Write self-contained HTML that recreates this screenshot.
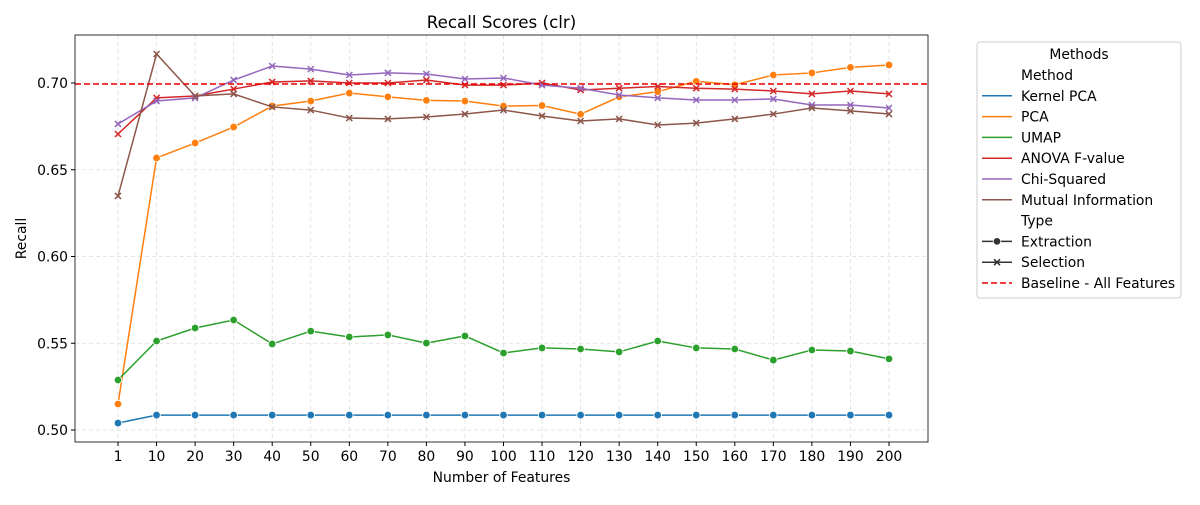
<!DOCTYPE html>
<html><head><meta charset="utf-8"><style>
body{margin:0;background:#fff;font-family:"Liberation Sans","DejaVu Sans",sans-serif}
svg text{font-family:"DejaVu Sans","Liberation Sans",sans-serif}
</style></head><body>
<svg id="c" width="1200" height="500" xmlns="http://www.w3.org/2000/svg"></svg>
<script>
const categories=["1","10","20","30","40","50","60","70","80","90","100","110","120","130","140","150","160","170","180","190","200"];
const yTicks=[0.50,0.55,0.60,0.65,0.70];
const kernelPca=[0.504,0.5086,0.5086,0.5086,0.5086,0.5086,0.5086,0.5086,0.5086,0.5086,0.5086,0.5086,0.5086,0.5086,0.5086,0.5086,0.5086,0.5086,0.5086,0.5086,0.5086];
const pca=[0.515,0.6568,0.6654,0.6746,0.6867,0.6896,0.6942,0.692,0.690,0.6896,0.6867,0.687,0.682,0.692,0.695,0.701,0.699,0.7046,0.7058,0.709,0.7104];
const umap=[0.5288,0.5513,0.5588,0.5634,0.5496,0.557,0.5536,0.5548,0.5501,0.5542,0.5444,0.5473,0.5467,0.545,0.5513,0.5473,0.5467,0.5403,0.5461,0.5455,0.541];
const anova=[0.6706,0.6914,0.6925,0.6965,0.7006,0.7012,0.70,0.70,0.7017,0.6988,0.6988,0.70,0.696,0.697,0.698,0.697,0.6965,0.6954,0.6937,0.6954,0.6937];
const chi=[0.6764,0.6896,0.6914,0.7017,0.7098,0.708,0.7046,0.7058,0.7052,0.7023,0.7029,0.6988,0.697,0.6931,0.6914,0.6902,0.6902,0.6908,0.6873,0.6873,0.6856];
const mi=[0.6349,0.7167,0.6925,0.6937,0.6862,0.6844,0.6798,0.6793,0.6804,0.6821,0.6844,0.681,0.6781,0.6793,0.6758,0.6769,0.6793,0.6821,0.6856,0.6839,0.6821];
const baseline=0.6994;
const series=[
 {name:"Kernel PCA",vals:kernelPca,color:"#1f77b4",m:"o"},
 {name:"PCA",vals:pca,color:"#ff7f0e",m:"o"},
 {name:"UMAP",vals:umap,color:"#2ca02c",m:"o"},
 {name:"ANOVA F-value",vals:anova,color:"#d62728",m:"x"},
 {name:"Chi-Squared",vals:chi,color:"#9467bd",m:"x"},
 {name:"Mutual Information",vals:mi,color:"#8c564b",m:"x"}];
const svg=document.getElementById('c');const NS="http://www.w3.org/2000/svg";
function el(t,a,p){const e=document.createElementNS(NS,t);for(const k in a)e.setAttribute(k,a[k]);(p||svg).appendChild(e);return e;}
const L=75,R=928,T=35,B=442,FS=13.9;
const x=i=>118+i*(889-118)/(categories.length-1);
const y=v=>430-(v-0.5)*1735;
yTicks.forEach(t=>{const g=el('line',{x1:L,x2:R,y1:y(t),y2:y(t),stroke:'#ddd','stroke-dasharray':'4,3','stroke-width':0.8});

el('line',{x1:L-4,x2:L,y1:y(t),y2:y(t),stroke:'#000'});
const tx=el('text',{x:L-7,y:y(t)+5,'text-anchor':'end','font-size':FS});tx.textContent=t.toFixed(2);
});
categories.forEach((c,i)=>{el('line',{x1:x(i),x2:x(i),y1:T,y2:B,stroke:'#ddd','stroke-dasharray':'4,3','stroke-width':0.8});
el('line',{x1:x(i),x2:x(i),y1:B,y2:B+4,stroke:'#000'});
const tx=el('text',{x:x(i),y:B+19,'text-anchor':'middle','font-size':FS});tx.textContent=c;
});
function marker(m,cx,cy,col,g){if(m==='o')el('circle',{cx,cy,r:3.8,fill:col,stroke:'#fff','stroke-width':0.8},g);
else{el('path',{d:`M${cx-3},${cy-3}L${cx+3},${cy+3}M${cx-3},${cy+3}L${cx+3},${cy-3}`,stroke:col,'stroke-width':1.5},g);}}
series.forEach(s=>{const g=el('g',{});
el('polyline',{points:s.vals.map((v,i)=>x(i)+','+y(v)).join(' '),fill:'none',stroke:s.color,'stroke-width':1.5},g);
s.vals.forEach((v,i)=>marker(s.m,x(i),y(v),s.color,g));});
const bl=el('line',{x1:L,x2:R,y1:y(baseline),y2:y(baseline),stroke:'#e00','stroke-width':1.5,'stroke-dasharray':'6,3'});

const fr=el('rect',{x:L,y:T,width:R-L,height:B-T,fill:'none',stroke:'#000','stroke-width':0.8});

let t=el('text',{x:(L+R)/2,y:28,'text-anchor':'middle','font-size':16.7});t.textContent='Recall Scores (clr)';

t=el('text',{x:(L+R)/2,y:482,'text-anchor':'middle','font-size':FS});t.textContent='Number of Features';

t=el('text',{x:26,y:(T+B)/2,'text-anchor':'middle','font-size':FS,transform:`rotate(-90 26 ${(T+B)/2})`});t.textContent='Recall';

const lg=el('g',{});
el('rect',{x:977,y:42,width:204,height:256,rx:3,fill:'#fff',stroke:'#ccc'},lg);
t=el('text',{x:1079,y:59,'text-anchor':'middle','font-size':FS},lg);t.textContent='Methods';
const rows=[["Method",null],...series.map(s=>[s.name,s]),["Type",null],["Extraction",{color:'#333',m:'o'}],["Selection",{color:'#333',m:'x'}],["Baseline - All Features",{color:'#e00',dash:1}]];
rows.forEach((r,i)=>{const yy=80+i*20.8;const g=el('g',{},lg);
if(r[1]){const s=r[1];el('line',{x1:982,x2:1012,y1:yy-5,y2:yy-5,stroke:s.color,'stroke-width':1.5,'stroke-dasharray':s.dash?'6,3':'none'},g);
if(s.m&&(r[0]==='Extraction'||r[0]==='Selection'))marker(s.m,997,yy-5,s.color,g);}
const tx=el('text',{x:1021,y:yy,'font-size':FS},g);tx.textContent=r[0];});
</script>
</body></html>
